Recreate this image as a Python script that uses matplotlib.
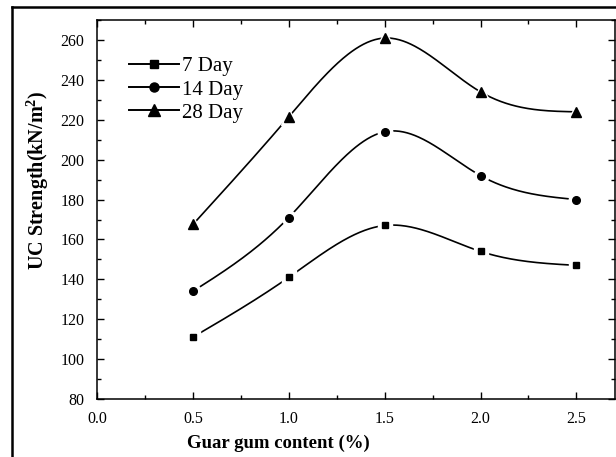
import numpy as np
import matplotlib
matplotlib.use("Agg")
import matplotlib.pyplot as plt
from matplotlib.lines import Line2D
from matplotlib.ticker import MultipleLocator

plt.rcParams['font.family'] = ['Liberation Serif', 'DejaVu Serif']
plt.rcParams['mathtext.fontset'] = 'custom'
plt.rcParams['mathtext.rm'] = 'Liberation Serif'
plt.rcParams['mathtext.bf'] = 'Liberation Serif:bold'

content = [0.5, 1.0, 1.5, 2.0, 2.5]
day7 = [111, 141, 167, 154, 147]
day14 = [134, 171, 214, 192, 180]
day28 = [167.5, 221.5, 261, 234, 224]
labels = ["7 Day", "14 Day", "28 Day"]
markers = ["s", "o", "^"]


def natural_spline(x, y, n=300):
    x = np.asarray(x, float); y = np.asarray(y, float)
    k = len(x); h = np.diff(x)
    A = np.zeros((k, k)); b = np.zeros(k)
    A[0, 0] = A[-1, -1] = 1
    for i in range(1, k - 1):
        A[i, i - 1] = h[i - 1]; A[i, i] = 2 * (h[i - 1] + h[i]); A[i, i + 1] = h[i]
        b[i] = 6 * ((y[i + 1] - y[i]) / h[i] - (y[i] - y[i - 1]) / h[i - 1])
    M = np.linalg.solve(A, b)
    xs = np.linspace(x[0], x[-1], n)
    idx = np.clip(np.searchsorted(x, xs) - 1, 0, k - 2)
    x0, x1 = x[idx], x[idx + 1]; hh = x1 - x0
    ys = (M[idx] * (x1 - xs) ** 3 / (6 * hh) + M[idx + 1] * (xs - x0) ** 3 / (6 * hh)
          + (y[idx] / hh - M[idx] * hh / 6) * (x1 - xs) + (y[idx + 1] / hh - M[idx + 1] * hh / 6) * (xs - x0))
    return xs, ys


fig = plt.figure(figsize=(6.16, 4.57), dpi=100)
ax = fig.add_axes([0.1575, 0.127, 0.8405, 0.829])

sizes = {"s": 5, "o": 5.5, "^": 7}
handles = []
for vals, lab, mk in zip([day7, day14, day28], labels, markers):
    xs, ys = natural_spline(content, vals)
    ax.plot(xs, ys, color='black', lw=1.2, zorder=2)
    ms = sizes[mk]
    ax.plot(content, vals, linestyle='none', marker=mk, ms=ms + 5, mfc='white', mec='white', zorder=3)
    ax.plot(content, vals, linestyle='none', marker=mk, ms=ms, mfc='black', mec='black', zorder=4)
    handles.append(Line2D([], [], color='black', lw=1.4, marker=mk, ms=ms + 1, mfc='black', mec='black'))

ax.set_xlim(0, 2.7)
ax.set_ylim(80, 270)
ax.xaxis.set_minor_locator(MultipleLocator(0.25))
ax.yaxis.set_minor_locator(MultipleLocator(10))
ax.set_xticks([0.0, 0.5, 1.0, 1.5, 2.0, 2.5])
ax.set_xticklabels(["0.0", "0.5", "1.0", "1.5", "2.0", "2.5"])
ax.set_yticks(np.arange(80, 261, 20))
ax.tick_params(which='both', direction='in', top=True, right=True, width=1.0, labelsize=11.5)
ax.tick_params(which='major', length=5)
ax.tick_params(which='minor', length=3)
ax.tick_params(axis='x', which='major', pad=8.5)
ax.tick_params(axis='y', which='major', pad=9)
for s in ax.spines.values():
    s.set_linewidth(1.1)

ax.set_xlabel("Guar gum content (%)", fontsize=13.5, fontweight='bold')
ax.xaxis.set_label_coords(0.351, -0.093)
ax.set_ylabel(r"UC Strength(kN/m$\mathbf{^2}$)", fontsize=14.5, fontweight='bold')
ax.yaxis.set_label_coords(-0.088, 0.578)

leg = ax.legend(handles, labels, loc='upper left', bbox_to_anchor=(0.045, 0.925), frameon=False,
                fontsize=15, handlelength=2.4, handletextpad=0.15, labelspacing=0.17, borderaxespad=0)

# outer frame
fig.add_artist(Line2D([0.019, 0.019], [0, 0.985], color='black', lw=1.8, transform=fig.transFigure))
fig.add_artist(Line2D([0.019, 1.0], [0.985, 0.985], color='black', lw=1.8, transform=fig.transFigure))

fig.savefig("out.png", dpi=100)
